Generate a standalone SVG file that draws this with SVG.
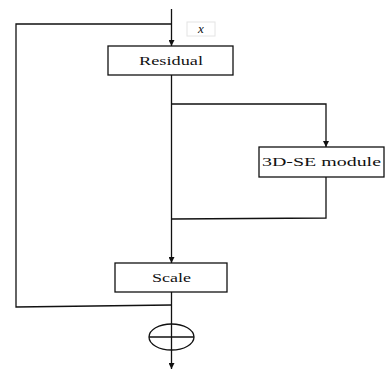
<svg xmlns="http://www.w3.org/2000/svg" width="385" height="372" viewBox="0 0 385 372">
<style>
.ln{stroke:#111;stroke-width:1.3;fill:none}
.box{fill:#fff;stroke:#111;stroke-width:1.3}
.t{font-family:"Liberation Serif","Times New Roman",serif;font-size:13px;fill:#111;text-anchor:middle}
</style>
<defs>
<marker id="ah" viewBox="0 0 10 10" refX="10" refY="5" markerWidth="6" markerHeight="6" markerUnits="userSpaceOnUse" orient="auto">
<path d="M0,0 L10,5 L0,10 z" fill="#111"/>
</marker>
</defs>
<rect width="385" height="372" fill="#fff"/>
<g id="connectors">
<line class="ln" x1="171.5" y1="9" x2="171.5" y2="46" marker-end="url(#ah)"/>
<polyline class="ln" points="171.5,24 16,24 16,307 171.5,305"/>
<line class="ln" x1="171.5" y1="75" x2="171.5" y2="263" marker-end="url(#ah)"/>
<polyline class="ln" points="171.5,104 326,104 326,147" marker-end="url(#ah)"/>
<polyline class="ln" points="326,177 326,218 171.5,219"/>
<line class="ln" x1="171.5" y1="292" x2="171.5" y2="369" marker-end="url(#ah)"/>
</g>
<g id="x-label">
<rect x="187" y="22" width="28" height="14" fill="#fff" stroke="#e4e4e4" stroke-width="1"/>
<text x="201" y="33" class="t" font-style="italic">x</text>
</g>
<g id="residual">
<rect class="box" x="108" y="46" width="125" height="29"/>
<text x="171" y="65" class="t" textLength="64" lengthAdjust="spacingAndGlyphs">Residual</text>
</g>
<g id="se-module">
<rect class="box" x="259" y="147" width="125" height="30"/>
<text x="321.5" y="166" class="t" textLength="119" lengthAdjust="spacingAndGlyphs">3D-SE module</text>
</g>
<g id="scale">
<rect class="box" x="115" y="263" width="112" height="29"/>
<text x="171.5" y="282" class="t" textLength="39" lengthAdjust="spacingAndGlyphs">Scale</text>
</g>
<g id="sum">
<ellipse class="ln" cx="171.5" cy="337" rx="22.5" ry="13"/>
<line class="ln" x1="149" y1="337" x2="194" y2="337"/>
</g>
</svg>
